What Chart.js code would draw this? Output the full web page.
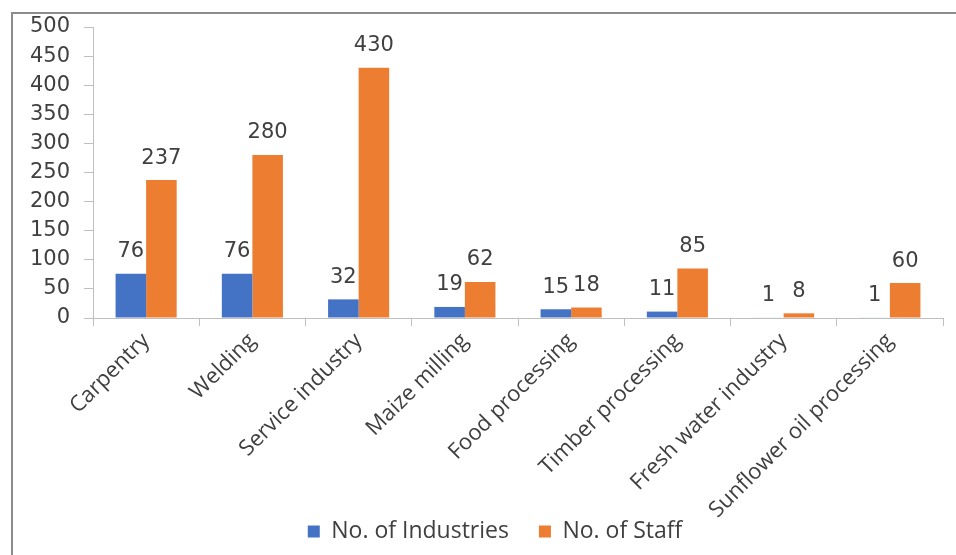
<!DOCTYPE html>
<html>
<head>
<meta charset="utf-8">
<script src="https://cdn.jsdelivr.net/npm/chart.js@4.4.0/dist/chart.umd.min.js"></script>
<style>
    html, body { margin: 0; padding: 0; background: #fff; overflow: hidden; }
    #page { position: relative; width: 956px; height: 555px; overflow: hidden; }
    #caption {
        position: absolute; left: 40px; top: -27px; white-space: nowrap;
        font: 28px "Liberation Serif", "Times New Roman", serif; line-height: 24px; color: #000;
    }
    #frame {
        position: absolute; left: 11px; top: 12px; right: -4px; bottom: -4px;
        border-left: 2px solid #8c8c8c; border-top: 2px solid #8c8c8c;
    }
    /* the chart box runs a little past the window on the right */
    #wrap { position: absolute; left: 0; top: 0; width: 978px; height: 555px; }
</style>
</head>
<body>
<div id="page">
    <div id="caption">Figure 4.10: Types of industries and their staff, in the main study area, 2019</div>
    <div id="frame"></div>
    <div id="wrap"><canvas id="industryChart"></canvas></div>
</div>
<script>
const categories = ['Carpentry', 'Welding', 'Service industry', 'Maize milling', 'Food processing',
    'Timber processing', 'Fresh water industry', 'Sunflower oil processing'];
const industries = [76, 76, 32, 19, 15, 11, 1, 1];
const staff = [237, 280, 430, 62, 18, 85, 8, 60];
const yTicks = [0, 50, 100, 150, 200, 250, 300, 350, 400, 450, 500];

const textColor = '#404040';
const axisColor = '#bfbfbf';

// value labels drawn above every bar
const barValues = {
    id: 'barValues',
    afterDatasetsDraw(chart) {
        const ctx = chart.ctx;
        ctx.save();
        ctx.font = '21px "DejaVu Sans", sans-serif';
        ctx.fillStyle = textColor;
        ctx.textAlign = 'center';
        ctx.textBaseline = 'middle';
        chart.data.datasets.forEach((ds, i) => {
            chart.getDatasetMeta(i).data.forEach((bar, j) => {
                ctx.fillText(String(ds.data[j]), bar.x, bar.y - 22);
            });
        });
        ctx.restore();
    }
};

// long category names hang down beside the legend, so don't clip them at the axis box
const unclipLabels = {
    id: 'unclipLabels',
    afterLayout(chart) {
        chart.scales.x.bottom = chart.height;
    }
};

new Chart(document.getElementById('industryChart'), {
    type: 'bar',
    data: {
        labels: categories,
        datasets: [
            { label: 'No. of Industries', data: industries, backgroundColor: '#4472C4' },
            { label: 'No. of Staff', data: staff, backgroundColor: '#ED7D31' }
        ]
    },
    options: {
        responsive: true,
        maintainAspectRatio: false,
        animation: false,
        datasets: { bar: { categoryPercentage: 0.575, barPercentage: 1 } },
        layout: { padding: { left: 12, right: 0, top: 27, bottom: 2 } },
        plugins: {
            tooltip: { enabled: false },
            legend: {
                position: 'bottom',
                labels: {
                    boxWidth: 12, boxHeight: 12, padding: 30,
                    color: textColor,
                    font: { family: '"Open Sans", sans-serif', size: 23 }
                }
            }
        },
        scales: {
            x: {
                afterFit: (scale) => { scale.height = 172; },
                grid: { drawOnChartArea: false, offset: true, tickLength: 8, color: axisColor },
                border: { color: axisColor },
                ticks: {
                    minRotation: 45, maxRotation: 45, padding: 2,
                    color: textColor,
                    font: { family: '"Open Sans", sans-serif', size: 22 }
                }
            },
            y: {
                min: 0, max: 500,
                afterBuildTicks: (scale) => { scale.ticks = yTicks.map(v => ({ value: v })); },
                afterFit: (scale) => { scale.width = 81; },
                grid: { drawOnChartArea: false, tickLength: 9, color: axisColor },
                border: { color: axisColor },
                ticks: {
                    padding: 14,
                    color: textColor,
                    font: { family: '"DejaVu Sans", sans-serif', size: 21 }
                }
            },
            // empty right-hand strip so the plot stops short of the frame edge
            spacer: {
                position: 'right', min: 0, max: 1,
                afterFit: (scale) => { scale.width = 35; },
                grid: { display: false },
                border: { display: false },
                ticks: { display: false }
            }
        }
    },
    plugins: [barValues, unclipLabels]
});
</script>
</body>
</html>
